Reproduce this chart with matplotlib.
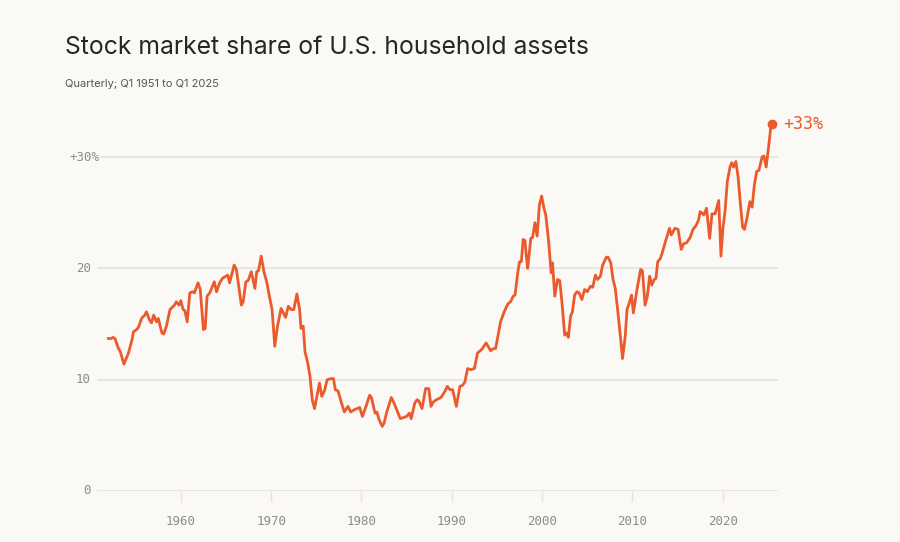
import matplotlib
matplotlib.use("Agg")
import matplotlib.pyplot as plt
import numpy as np

# values (year, share of household assets in %)
years = [1951.97, 1952.3, 1952.5, 1952.7, 1953.1, 1953.3, 1953.7, 1954.2, 1954.6, 1954.75,
         1955.1, 1955.3, 1955.65, 1956.0, 1956.2, 1956.5, 1956.75, 1957.0, 1957.3, 1957.5,
         1957.9, 1958.1, 1958.4, 1958.8, 1959.3, 1959.5, 1959.8, 1960.0, 1960.25, 1960.45,
         1960.7, 1961.0, 1961.3, 1961.5, 1961.9, 1962.15, 1962.5, 1962.7, 1962.9, 1963.2,
         1963.7, 1963.95, 1964.3, 1964.6, 1965.2, 1965.4, 1965.9, 1966.15, 1966.7, 1966.9,
         1967.2, 1967.45, 1967.8, 1968.2, 1968.4, 1968.6, 1968.9, 1969.2, 1969.5, 1969.6,
         1969.8, 1970.1, 1970.4, 1970.7, 1971.1, 1971.6, 1971.9, 1972.2, 1972.5, 1972.85,
         1973.15, 1973.3, 1973.55, 1973.75, 1974.05, 1974.3, 1974.55, 1974.8, 1975.2, 1975.35,
         1975.6, 1975.9, 1976.2, 1976.65, 1976.9, 1977.1, 1977.4, 1977.75, 1978.1, 1978.5,
         1978.8, 1979.2, 1979.8, 1980.1, 1980.5, 1980.9, 1981.1, 1981.5, 1981.7, 1981.95,
         1982.3, 1982.5, 1982.8, 1983.3, 1983.6, 1983.9, 1984.3, 1984.65, 1985.0, 1985.3,
         1985.5, 1985.9, 1986.15, 1986.35, 1986.7, 1987.1, 1987.45, 1987.7, 1987.95, 1988.3,
         1988.8, 1989.2, 1989.5, 1989.8, 1990.1, 1990.5, 1990.9, 1991.2, 1991.45, 1991.75,
         1992.1, 1992.5, 1992.85, 1993.3, 1993.8, 1994.3, 1994.6, 1994.85, 1995.1, 1995.4,
         1995.8, 1996.2, 1996.5, 1996.8, 1997.0, 1997.3, 1997.5, 1997.7, 1997.9, 1998.1,
         1998.25, 1998.4, 1998.75, 1998.95, 1999.2, 1999.45, 1999.7, 1999.95, 2000.2, 2000.4,
         2000.7, 2001.0, 2001.15, 2001.4, 2001.7, 2001.95, 2002.2, 2002.5, 2002.7, 2002.9,
         2003.15, 2003.35, 2003.6, 2003.85, 2004.1, 2004.4, 2004.7, 2005.0, 2005.35, 2005.6,
         2005.9, 2006.15, 2006.45, 2006.7, 2007.1, 2007.3, 2007.6, 2007.85, 2008.1, 2008.4,
         2008.7, 2008.9, 2009.2, 2009.4, 2009.65, 2009.9, 2010.1, 2010.5, 2010.9, 2011.1,
         2011.4, 2011.65, 2011.9, 2012.15, 2012.4, 2012.6, 2012.8, 2013.1, 2013.3, 2013.65,
         2014.1, 2014.3, 2014.7, 2015.05, 2015.4, 2015.65, 2016.0, 2016.4, 2016.7, 2017.0,
         2017.3, 2017.5, 2017.9, 2018.2, 2018.55, 2018.8, 2019.15, 2019.55, 2019.8, 2020.0,
         2020.25, 2020.5, 2020.8, 2021.0, 2021.2, 2021.45, 2021.7, 2021.95, 2022.2, 2022.4,
         2022.7, 2023.0, 2023.25, 2023.5, 2023.75, 2024.0, 2024.35, 2024.55, 2024.8, 2025.1,
         2025.3, 2025.45]
share = [13.7, 13.7, 13.8, 13.7, 12.8, 12.5, 11.4, 12.4, 13.6, 14.3,
         14.5, 14.7, 15.5, 15.8, 16.1, 15.4, 15.1, 15.8, 15.2, 15.5,
         14.2, 14.1, 14.8, 16.3, 16.7, 17.0, 16.7, 17.1, 16.3, 16.2,
         15.2, 17.8, 17.9, 17.8, 18.7, 18.1, 14.5, 14.6, 17.5, 17.8,
         18.8, 17.9, 18.7, 19.1, 19.4, 18.7, 20.3, 19.9, 16.7, 17.0,
         18.8, 18.9, 19.7, 18.2, 19.7, 19.8, 21.1, 19.7, 18.8, 18.4,
         17.5, 16.3, 13.0, 14.8, 16.4, 15.6, 16.6, 16.3, 16.3, 17.7,
         16.3, 14.6, 14.8, 12.5, 11.5, 10.3, 8.2, 7.4, 9.1, 9.7,
         8.5, 9.0, 10.0, 10.1, 10.1, 9.1, 9.0, 8.0, 7.1, 7.6,
         7.1, 7.3, 7.5, 6.7, 7.6, 8.6, 8.4, 7.0, 7.1, 6.4,
         5.8, 6.1, 7.1, 8.4, 7.9, 7.3, 6.5, 6.6, 6.7, 7.0,
         6.5, 7.9, 8.2, 8.1, 7.4, 9.2, 9.2, 7.6, 8.0, 8.2,
         8.4, 8.9, 9.4, 9.1, 9.1, 7.6, 9.4, 9.5, 9.8, 11.0,
         10.9, 11.0, 12.4, 12.7, 13.3, 12.6, 12.8, 12.8, 13.9, 15.2,
         16.1, 16.8, 17.0, 17.5, 17.6, 19.6, 20.6, 20.6, 22.6, 22.5,
         21.1, 20.0, 22.7, 22.8, 24.1, 22.9, 25.7, 26.5, 25.4, 24.8,
         22.6, 19.6, 20.5, 17.5, 19.0, 18.9, 16.9, 14.0, 14.2, 13.8,
         15.7, 16.1, 17.6, 17.9, 17.8, 17.2, 18.1, 17.9, 18.4, 18.3,
         19.4, 19.0, 19.3, 20.3, 21.0, 21.0, 20.5, 19.0, 18.2, 16.0,
         13.6, 11.9, 13.9, 16.3, 16.9, 17.6, 16.0, 18.1, 19.9, 19.8,
         16.7, 17.5, 19.3, 18.5, 19.0, 19.1, 20.6, 20.9, 21.4, 22.4,
         23.6, 23.0, 23.6, 23.5, 21.7, 22.2, 22.3, 22.8, 23.5, 23.8,
         24.3, 25.1, 24.8, 25.4, 22.7, 24.9, 24.9, 26.1, 21.1, 23.5,
         25.1, 27.8, 29.1, 29.5, 29.1, 29.6, 28.2, 25.8, 23.7, 23.5,
         24.6, 26.0, 25.5, 27.5, 28.7, 28.8, 30.0, 30.1, 29.1, 31.1,
         32.6, 33.0]

ytick_vals = [0, 10, 20, 30]
ytick_labels = ["0", "10", "20", "+30%"]
xtick_vals = [1960, 1970, 1980, 1990, 2000, 2010, 2020]

bg = "#fbf9f5"
orange = "#eb5a2c"
grid_c = "#e7e4df"
tick_c = "#8e8c89"

fig = plt.figure(figsize=(9, 5.42), dpi=100, facecolor=bg)
ax = fig.add_axes([0.1073, 0.0941, 0.757, 0.688])
ax.set_facecolor(bg)

ax.set_xlim(1950.67, 2026.1)
ax.set_ylim(0, 33.5)

for v in ytick_vals:
    xmin = 0.005 if v == 30 else 0
    ax.axhline(v, xmin=xmin, color=grid_c, lw=1.3, zorder=1)

ax.plot(years, share, color=orange, lw=2.0, solid_joinstyle="round", zorder=3)
ax.plot(years[-1], share[-1], "o", color=orange, ms=6, zorder=4)
ax.annotate("+33%", xy=(years[-1], share[-1]), xytext=(8, 0), textcoords="offset points",
            va="center", ha="left", color=orange, fontsize=12, family="DejaVu Sans Mono")

for s in ax.spines.values():
    s.set_visible(False)

ax.set_yticks([])
for v, lab in zip(ytick_vals, ytick_labels):
    dx = 2 if lab.endswith("%") else -4
    ax.annotate(lab, xy=(0, v), xycoords=("axes fraction", "data"), xytext=(dx, 0),
                textcoords="offset points", ha="right", va="center",
                color=tick_c, fontsize=9, family="DejaVu Sans Mono")

ax.set_xticks(xtick_vals)
ax.set_xticklabels([str(x) for x in xtick_vals], family="DejaVu Sans Mono", fontsize=9, color=tick_c)
ax.tick_params(axis="x", length=8, width=1, color=grid_c, pad=9)

fig.text(65 / 900, 1 - 48 / 542, "Stock market share of U.S. household assets",
         fontsize=17.8, color="#262626", family="Inter", va="center", ha="left")
fig.text(65 / 900, 1 - 84 / 542, "Quarterly; Q1 1951 to Q1 2025",
         fontsize=8, color="#555555", family="Inter", va="center", ha="left")

fig.savefig("out.png", dpi=100, facecolor=bg)
